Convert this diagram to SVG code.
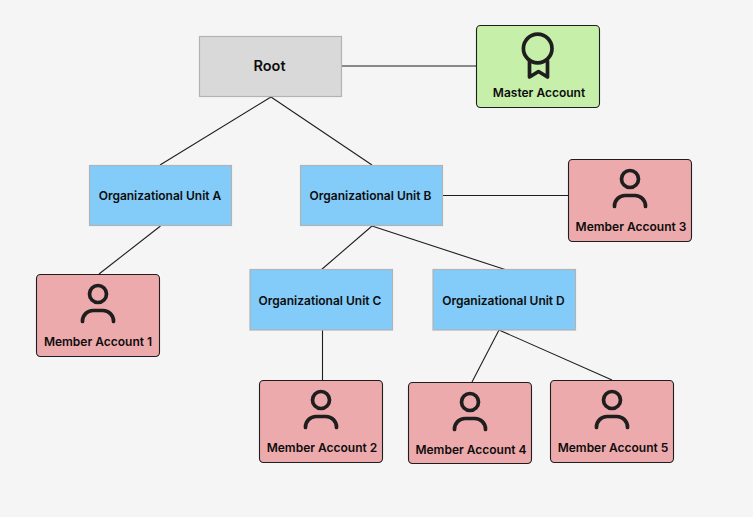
<svg xmlns="http://www.w3.org/2000/svg" width="753" height="517" viewBox="0 0 753 517">
<style>
.c{fill:none;stroke:#1e1e1e;stroke-width:1.1}
.ou{fill:#83cbf8;stroke:#b3b3b3;stroke-width:1.2}
.m{fill:#edaaac;stroke:#1e1e1e;stroke-width:1.1}
.g{fill:#c6efa9;stroke:#1e1e1e;stroke-width:1.1}
.r{fill:#d9d9d9;stroke:#b3b3b3;stroke-width:1.2}
.i{fill:none;stroke:#1e1e1e;stroke-width:3.7;stroke-linecap:round;stroke-linejoin:round}
text{font-family:Inter,"Liberation Sans",sans-serif;font-size:12px;font-weight:600;fill:#0d0d0d;text-anchor:middle}
</style>
<defs>
<g id="person"><circle cx="0" cy="0" r="8.500" class="i"/><path class="i" d="M-15.500 27.500v-0.500a10.500 10.500 0 0 1 10.500-10.500h10a10.500 10.500 0 0 1 10.500 10.500v0.500"/></g>
</defs>
<rect width="753" height="517" fill="#f5f5f5"/>
<g id="connectors">
<path class="c" d="M342 66H476"/>
<path class="c" d="M271 97L160 165"/>
<path class="c" d="M271 97L372 165"/>
<path class="c" d="M442 195.500H569"/>
<path class="c" d="M160.500 226L99 274"/>
<path class="c" d="M372 226L321 270"/>
<path class="c" d="M372 226L505 269.500"/>
<path class="c" d="M322.500 330V380"/>
<path class="c" d="M499 330L472 382"/>
<path class="c" d="M499 330L612 380"/>
</g>
<g id="root"><rect class="r" x="199.500" y="36.500" width="142" height="60"/><text x="269.500" y="71" style="font-size:14.500px">Root</text></g>
<g id="master"><rect class="g" x="476.500" y="25.500" width="123" height="82" rx="4"/><circle cx="537.700" cy="48.500" r="14.300" class="i"/><path class="i" d="M529.500 61V77L538.500 71.500L547.500 77V61"/><text x="539" y="97">Master Account</text></g>
<g id="ou-a"><rect class="ou" x="89.500" y="165.500" width="142" height="60"/><text x="160" y="200">Organizational Unit A</text></g>
<g id="ou-b"><rect class="ou" x="300.500" y="165.500" width="142" height="60"/><text x="370.500" y="200">Organizational Unit B</text></g>
<g id="ou-c"><rect class="ou" x="250" y="269.500" width="142.500" height="60.500"/><text x="320" y="304.500">Organizational Unit C</text></g>
<g id="ou-d"><rect class="ou" x="433" y="269.500" width="142.500" height="60.500"/><text x="503.500" y="304.500">Organizational Unit D</text></g>
<g id="member-3"><rect class="m" x="568.500" y="159.500" width="123" height="82" rx="4"/><use href="#person" x="630" y="179"/><text x="631" y="231">Member Account 3</text></g>
<g id="member-1"><rect class="m" x="36.500" y="274.500" width="123" height="82" rx="4"/><use href="#person" x="98" y="294"/><text x="98" y="346">Member Account 1</text></g>
<g id="member-2"><rect class="m" x="259.500" y="380.500" width="123" height="82" rx="4"/><use href="#person" x="321" y="400"/><text x="322" y="452">Member Account 2</text></g>
<g id="member-4"><rect class="m" x="408.500" y="382.500" width="123" height="81" rx="4"/><use href="#person" x="470" y="402"/><text x="471" y="454">Member Account 4</text></g>
<g id="member-5"><rect class="m" x="550.500" y="380.500" width="123" height="82" rx="4"/><use href="#person" x="612" y="400"/><text x="613" y="452">Member Account 5</text></g>
</svg>
